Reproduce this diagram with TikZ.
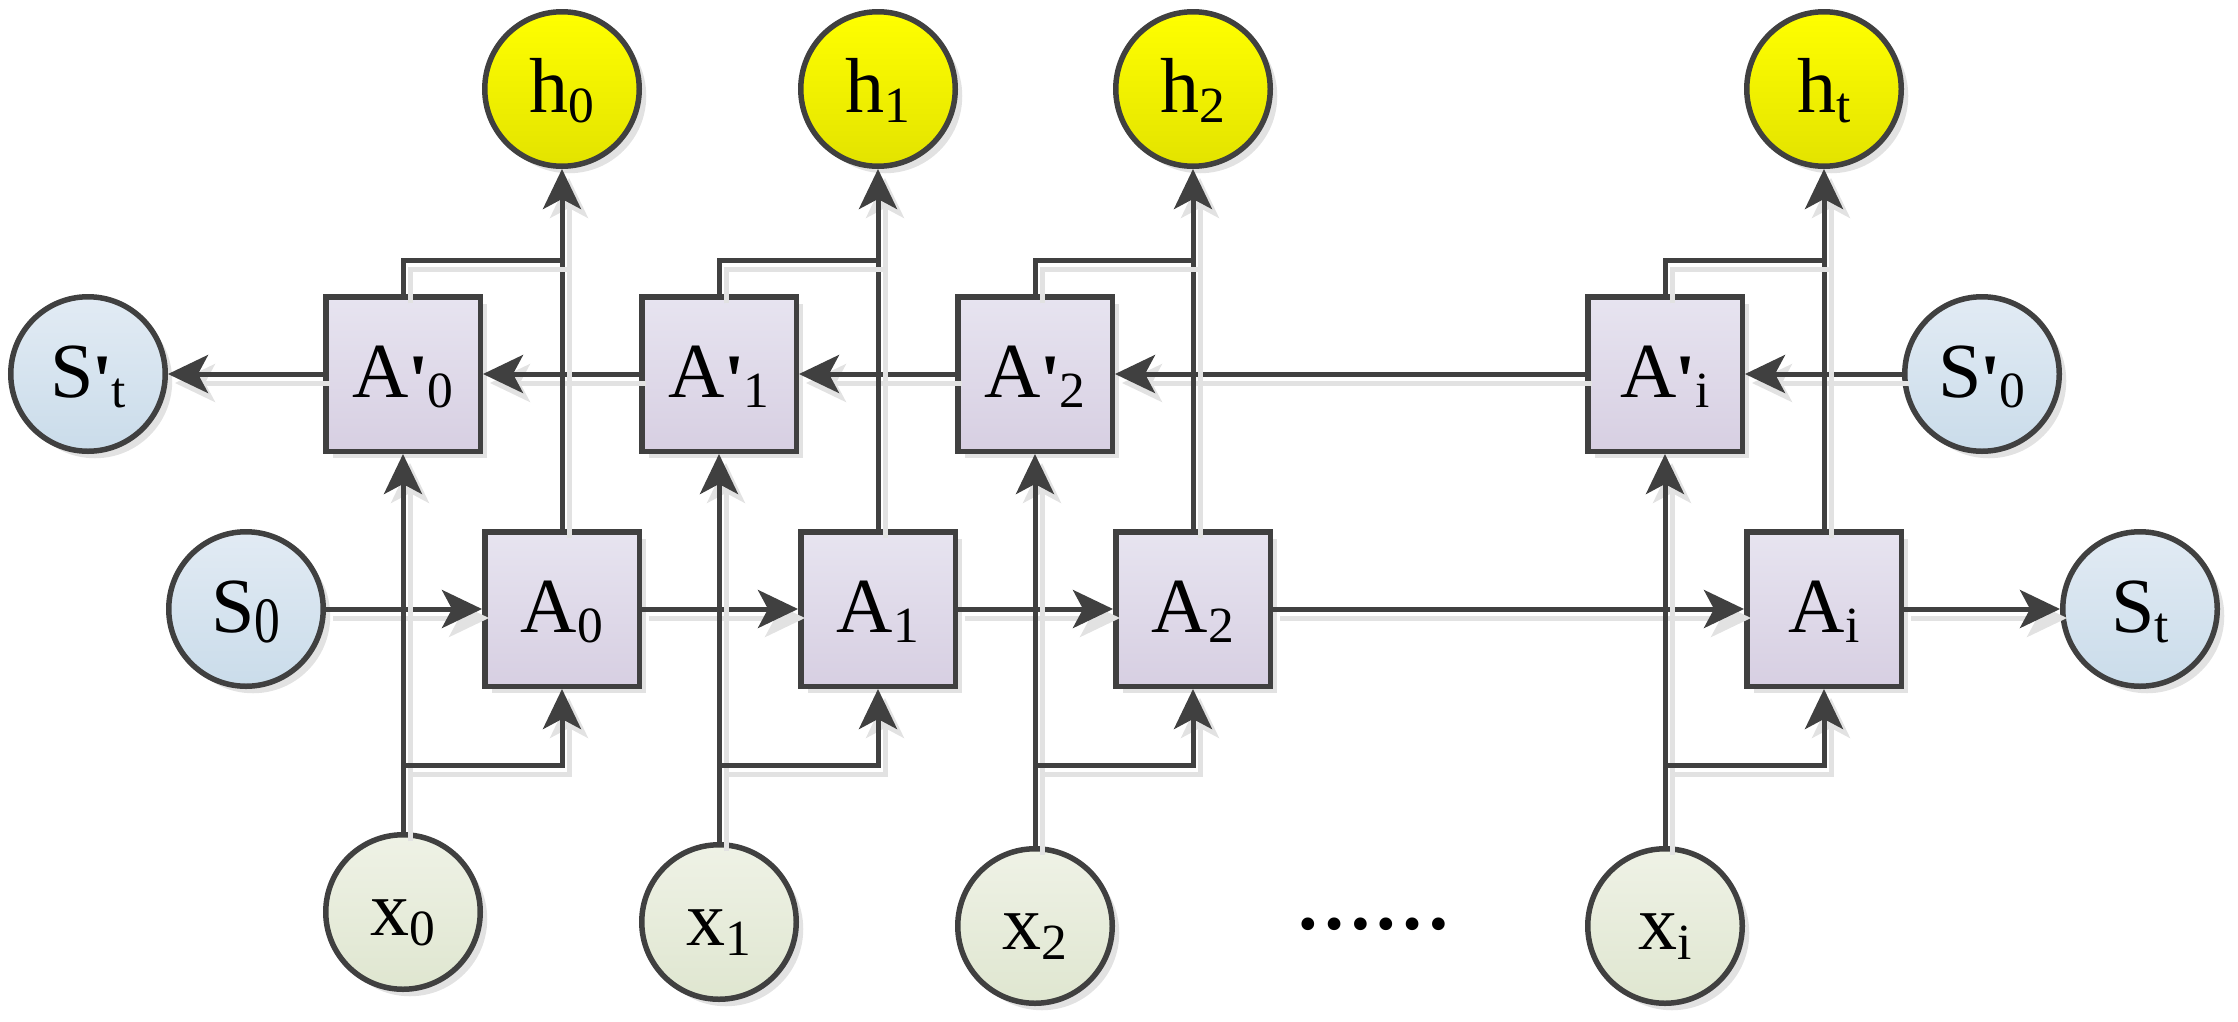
\documentclass[tikz,border=0pt]{standalone}
\usepackage{fontspec}
\setmainfont{Liberation Serif}
\usepackage{graphicx}
\usetikzlibrary{arrows.meta,shadows}

\definecolor{lncol}{HTML}{404040}
\definecolor{hTop}{HTML}{FFFF00}
\definecolor{hBot}{HTML}{E3E300}
\definecolor{sTop}{HTML}{E2EBF4}
\definecolor{sBot}{HTML}{CADCEA}
\definecolor{aTop}{HTML}{E7E4F0}
\definecolor{aBot}{HTML}{D7CFE2}
\definecolor{xTop}{HTML}{EFF2E6}
\definecolor{xBot}{HTML}{DFE6D0}
\definecolor{shd}{HTML}{E2E2E2}

\newcommand\sbs[2][0.65]{\raisebox{-10pt}{\scalebox{0.66}[#1]{#2}}}
\newcommand\prm{\raisebox{-8pt}{\scalebox{1.3}[0.95]{\textquotesingle}}}

\tikzset{
  base/.style={draw=lncol, line width=5.5pt, inner sep=0pt,
    text height=60pt, text depth=14pt,
    font=\fontsize{78}{80}\selectfont,
    drop shadow={shadow xshift=7pt, shadow yshift=-7pt, fill=shd, opacity=1}},
  hnode/.style={base, circle, minimum size=154.5pt, top color=hTop, bottom color=hBot},
  snode/.style={base, circle, minimum size=154.5pt, top color=sTop, bottom color=sBot},
  xnode/.style={base, circle, minimum size=154.5pt, top color=xTop, bottom color=xBot},
  abox/.style={base, rectangle, minimum width=154.5pt, minimum height=154.5pt, top color=aTop, bottom color=aBot},
  conn/.style={draw=lncol, line width=5pt,
    preaction={draw=shd, line width=5pt, transform canvas={shift={(7pt,-9pt)}}}},
  arr/.style={conn, -{Stealth[length=40pt,width=38pt,inset=10pt]}},
}

\begin{document}
\begin{tikzpicture}[x=1pt,y=-1pt]
\useasboundingbox (0,0) rectangle (2238,1021);

% top (reverse) row
\node[snode] (Spt) at (88,374) {S\prm\sbs{t}};
\node[abox] (Ap0) at (403,374) {A\prm\sbs{0}};
\node[abox] (Ap1) at (719,374) {A\prm\sbs{1}};
\node[abox] (Ap2) at (1035,374) {A\prm\sbs{2}};
\node[abox] (Api) at (1665,374) {A\prm\sbs{i}};
\node[snode] (Sp0) at (1982,374) {S\prm\sbs{0}};

% forward row
\node[snode] (S0) at (246,609) {S\sbs[0.83]{0}};
\node[abox] (A0) at (562,609) {A\sbs{0}};
\node[abox] (A1) at (878,609) {A\sbs{1}};
\node[abox] (A2) at (1193,609) {A\sbs{2}};
\node[abox] (Ai) at (1824,609) {A\sbs{i}};
\node[snode] (St) at (2140,609) {S\sbs{t}};

% outputs
\node[hnode] (h0) at (562,89) {h\sbs{0}};
\node[hnode] (h1) at (878,89) {h\sbs{1}};
\node[hnode] (h2) at (1193,89) {h\sbs{2}};
\node[hnode] (ht) at (1824,89) {h\sbs{t}};

% inputs
\node[xnode] (x0) at (403,912) {x\sbs{0}};
\node[xnode] (x1) at (719,922) {x\sbs{1}};
\node[xnode] (x2) at (1035,926) {x\sbs{2}};
\node[xnode] (xi) at (1665,926) {x\sbs{i}};

\node[font=\fontsize{78}{80}\selectfont\bfseries, anchor=base, inner sep=0pt] (dots) at (1373,929) {……};

% junction coordinates
\coordinate (b0) at (403,765);
\coordinate (b1) at (719,765);
\coordinate (b2) at (1035,765);
\coordinate (bi) at (1665,765);
\coordinate (f0) at (562,260);
\coordinate (f1) at (878,260);
\coordinate (f2) at (1193,260);
\coordinate (fi) at (1824,260);

% reverse chain
\draw[arr] (Sp0) -- (Api);
\draw[arr] (Api) -- (Ap2);
\draw[arr] (Ap2) -- (Ap1);
\draw[arr] (Ap1) -- (Ap0);
\draw[arr] (Ap0) -- (Spt);

% forward chain
\draw[arr] (S0) -- (A0);
\draw[arr] (A0) -- (A1);
\draw[arr] (A1) -- (A2);
\draw[arr] (A2) -- (Ai);
\draw[arr] (Ai) -- (St);

% outputs
\draw[arr] (A0) -- (h0);
\draw[arr] (A1) -- (h1);
\draw[arr] (A2) -- (h2);
\draw[arr] (Ai) -- (ht);
\draw[conn] (Ap0.north) |- (f0);
\draw[conn] (Ap1.north) |- (f1);
\draw[conn] (Ap2.north) |- (f2);
\draw[conn] (Api.north) |- (fi);

% inputs
\draw[arr] (x0) -- (Ap0);
\draw[arr] (x1) -- (Ap1);
\draw[arr] (x2) -- (Ap2);
\draw[arr] (xi) -- (Api);
\draw[arr] (b0) -| (A0.south);
\draw[arr] (b1) -| (A1.south);
\draw[arr] (b2) -| (A2.south);
\draw[arr] (bi) -| (Ai.south);
\end{tikzpicture}
\end{document}
